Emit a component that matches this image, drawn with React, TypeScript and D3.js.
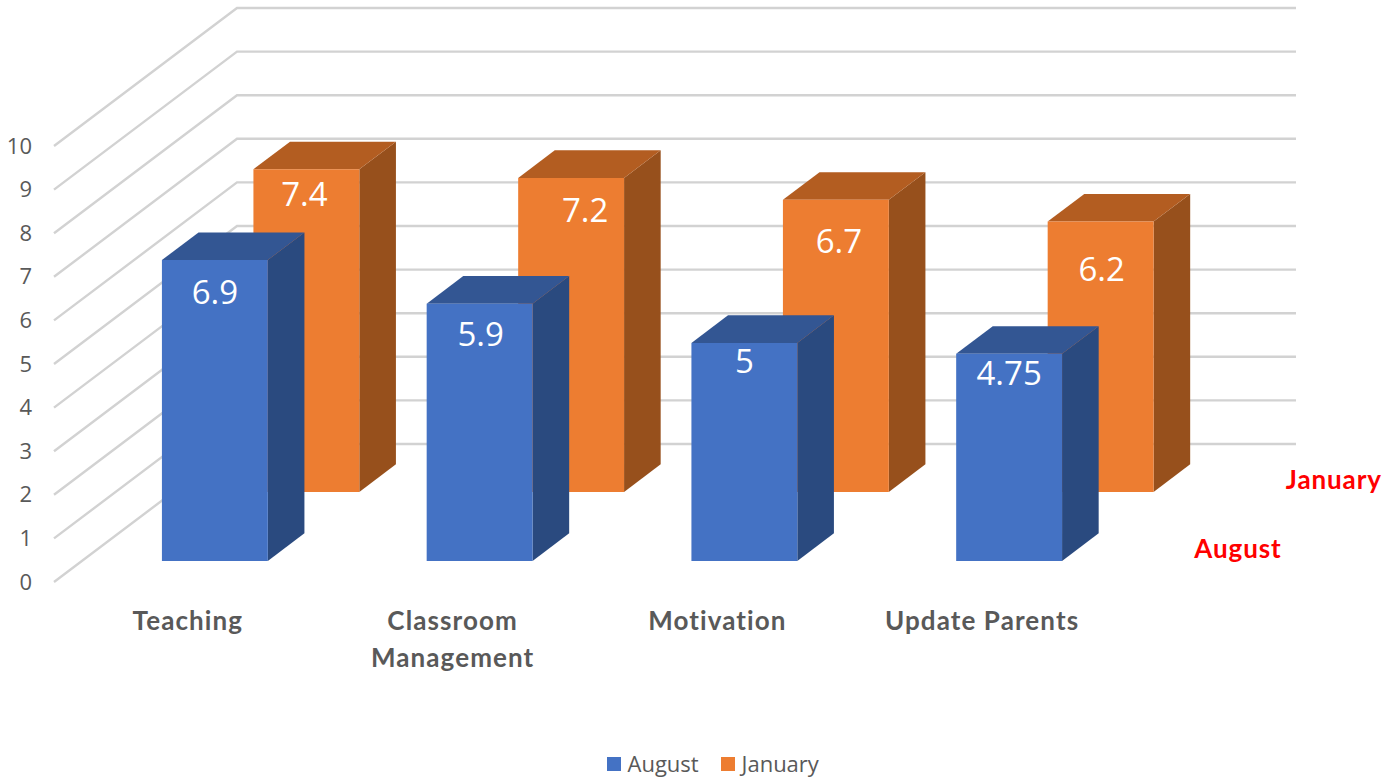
import React, { useEffect, useRef } from 'react';
import * as d3 from 'd3';

const categories = ['Teaching', 'Classroom Management', 'Motivation', 'Update Parents'];
const seriesNames = ['August', 'January'];
const august = [6.9, 5.9, 5, 4.75];
const january = [7.4, 7.2, 6.7, 6.2];
const yTicks = [0, 1, 2, 3, 4, 5, 6, 7, 8, 9, 10];

const WIDTH = 1384;
const HEIGHT = 781;

// hand placed value labels: offset from the bar's top centre, per series
const labelDrop = [
  [44, 42, 30, 31.5],
  [37, 44, 53, 59],
];
const labelShift = [
  [0, 1, 0, 0],
  [-2, 14, 3, 1],
];

const faceColors = [
  { front: '#4472c4', side: '#2a4a7f', top: '#335693' },
  { front: '#ed7d31', side: '#97501c', top: '#b35d21' },
];

const App = () => {
  const chartRef = useRef<SVGSVGElement>(null);

  useEffect(() => {
    const svg = d3.select(chartRef.current);
    svg.selectAll('*').remove();

    // front edge of the side wall and how far the box recedes
    const left = 54;
    const right = 1113;
    const depthX = 183;
    const depthY = -138;

    const x = d3.scaleBand().domain(categories).range([left + 0.5, right + 0.5]).paddingInner(0.6).paddingOuter(0.3);
    const y = d3.scaleLinear().domain([0, 10]).range([582, 146]);
    const z = d3.scaleBand().domain(seriesNames).range([0.003, 1.003]).paddingInner(0.6).paddingOuter(0.3);

    const project = (xv: number, value: number, t: number): [number, number] => [
      xv + t * depthX,
      y(value) + t * depthY,
    ];
    const poly = d3.line();

    // walls
    const grid = svg.append('g').attr('fill', 'none').attr('stroke', '#d2d2d2').attr('stroke-width', 2.4);
    yTicks.forEach(v => {
      grid.append('path').attr('d', poly([project(left, v, 0), project(left, v, 1), project(right, v, 1)]));
    });

    // axis
    const axis = svg.append('g')
      .attr('transform', 'translate(39,0)')
      .call(d3.axisLeft(y).tickValues(yTicks).tickSize(0).tickPadding(7).tickFormat(d3.format('d')));
    axis.select('.domain').remove();
    axis.selectAll('text')
      .attr('font-family', '"Open Sans"')
      .attr('font-size', 22)
      .attr('fill', '#595959');

    // bars, back row first so the front row covers it
    const rows = [august, january];
    [1, 0].forEach(s => {
      const name = seriesNames[s];
      const t0 = z(name) as number;
      const t1 = t0 + z.bandwidth();
      const colors = faceColors[s];
      const g = svg.append('g');
      categories.forEach((cat, i) => {
        const value = rows[s][i];
        const x0 = x(cat) as number;
        const x1 = x0 + x.bandwidth();
        g.append('path').attr('fill', colors.side)
          .attr('d', poly([project(x1, 0, t0), project(x1, 0, t1), project(x1, value, t1), project(x1, value, t0)]) + 'Z');
        g.append('path').attr('fill', colors.top)
          .attr('d', poly([project(x0, value, t0), project(x1, value, t0), project(x1, value, t1), project(x0, value, t1)]) + 'Z');
        g.append('path').attr('fill', colors.front)
          .attr('d', poly([project(x0, 0, t0), project(x1, 0, t0), project(x1, value, t0), project(x0, value, t0)]) + 'Z');
        const [tx, ty] = project((x0 + x1) / 2, value, t0);
        g.append('text')
          .attr('x', tx + labelShift[s][i])
          .attr('y', ty + labelDrop[s][i])
          .attr('text-anchor', 'middle')
          .attr('font-family', '"Open Sans"')
          .attr('font-size', 33)
          .attr('fill', '#fff')
          .text(value);
      });

      // series name at the end of the depth axis
      const [ex, ey] = project(right, 0, t0 + z.bandwidth() / 2);
      svg.append('text')
        .attr('x', ex + 35)
        .attr('y', ey + 11)
        .attr('font-family', 'Lato')
        .attr('font-weight', 700)
        .attr('font-size', 26)
        .attr('letter-spacing', 0.9)
        .attr('fill', '#ff0000')
        .text(name);
    });

    // category labels, long ones wrap on two lines
    const labels = svg.append('g')
      .attr('font-family', 'Lato')
      .attr('font-weight', 700)
      .attr('font-size', 26)
      .attr('letter-spacing', 1.1)
      .attr('fill', '#595959')
      .attr('text-anchor', 'middle');
    categories.forEach(cat => {
      const cx = (x(cat) as number) + x.bandwidth() / 2 + 1;
      const lines = cat === 'Classroom Management' ? cat.split(' ') : [cat];
      lines.forEach((line, i) => {
        labels.append('text').attr('x', cx).attr('y', 630 + i * 37).text(line);
      });
    });

    // legend
    const legend = svg.append('g').attr('font-family', '"Open Sans"').attr('font-size', 22).attr('fill', '#595959');
    const legendX = d3.scaleOrdinal<string, number>().domain(seriesNames).range([607, 721]);
    seriesNames.forEach((name, s) => {
      const lx = legendX(name);
      legend.append('rect').attr('x', lx).attr('y', 757).attr('width', 14).attr('height', 14).attr('fill', faceColors[s].front);
      legend.append('text').attr('x', lx + 20.5).attr('y', 772).text(name);
    });
  }, []);

  return (
    <svg
      ref={chartRef}
      width={WIDTH}
      height={HEIGHT}
      style={{ position: 'absolute', left: 0, top: 0, background: '#fff' }}
    />
  );
};

export default App;
